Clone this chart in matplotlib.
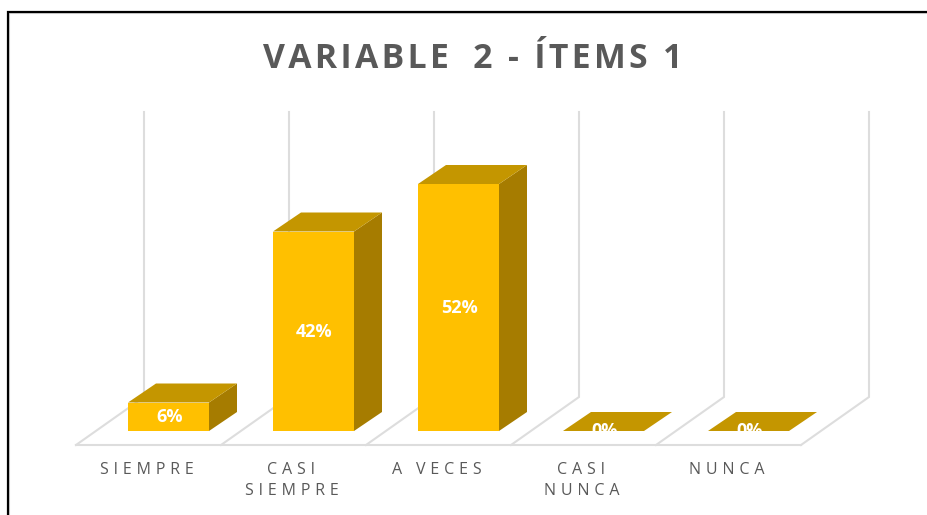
import matplotlib
matplotlib.use('Agg')
import matplotlib.pyplot as plt
from matplotlib.lines import Line2D
from matplotlib.patches import Polygon

plt.rcParams['font.family'] = ['Open Sans', 'DejaVu Sans']

categories = ['SIEMPRE', 'CASI\nSIEMPRE', 'A VECES', 'CASI\nNUNCA', 'NUNCA']
values = [6, 42, 52, 0, 0]
title = 'VARIABLE  2 - ÍTEMS 1'
axis_max = 60

HAIR = '\u200a'


def spaced(text, gap):
    # matplotlib has no letter spacing, so pad with hair spaces
    lines = []
    for line in text.split('\n'):
        out = line[0]
        for prev, ch in zip(line, line[1:]):
            out += ch if prev == ch == ' ' else HAIR * gap + ch
        lines.append(out)
    return '\n'.join(lines)


fig = plt.figure(figsize=(9.28, 5.15), dpi=100)
ax = fig.add_axes([0, 0, 1, 1])

# one category = 145 px, one percent = 4.75 px
ax.set_xlim(-168.5 / 145, (928 - 168.5) / 145)
ax.set_ylim((431 - 515) / 4.75, 431 / 4.75)
ax.axis('off')

bar_w = 81 / 145
bar_dx, bar_dy = 28 / 145, 19 / 4.75
front_dx, front_dy = -20 / 145, -14 / 4.75
back_dx, back_dy = 48 / 145, 34 / 4.75

grid_col = '#DDDDDD'
n = len(categories)

# walls and floor
edges = [i - 0.5 for i in range(n + 1)]
for e in edges:
    ax.plot([e + front_dx, e + back_dx, e + back_dx],
            [front_dy, back_dy, back_dy + axis_max],
            color=grid_col, lw=1.5, solid_joinstyle='miter', zorder=1)
ax.plot([edges[0] + front_dx, edges[-1] + front_dx], [front_dy, front_dy],
        color=grid_col, lw=1.5, zorder=1)

# bars
for i, v in enumerate(values):
    x0 = i - bar_w / 2
    x1 = i + bar_w / 2
    if v > 0:
        ax.add_patch(Polygon([(x0, 0), (x1, 0), (x1, v), (x0, v)],
                             facecolor='#FFC000', edgecolor='none', zorder=3))
        ax.add_patch(Polygon([(x1, 0), (x1 + bar_dx, bar_dy), (x1 + bar_dx, v + bar_dy), (x1, v)],
                             facecolor='#A67C00', edgecolor='none', zorder=3))
    ax.add_patch(Polygon([(x0, v), (x1, v), (x1 + bar_dx, v + bar_dy), (x0 + bar_dx, v + bar_dy)],
                         facecolor='#C49600', edgecolor='none', zorder=3))
    ax.text(i + 0.005, v / 2 - 0.1, f'{v}%', color='white', fontsize=13, fontweight='bold',
            ha='center', va='center', zorder=4)

# category labels, two-line ones sit lower because they grow downwards
for i, c in enumerate(categories):
    y_px = 480.5 if '\n' in c else 470
    ax.text(i - 0.152, (431 - y_px) / 4.75, spaced(c, 3), color='#595959', fontsize=11.5,
            ha='center', va='center', linespacing=1.35, zorder=4)

# title
fig.text(473 / 928, 1 - 59 / 515, spaced(title, 1), color='#595959', fontsize=24.3,
         fontweight='bold', ha='center', va='center')

# black frame with a soft grey shadow
fig.add_artist(Line2D([9.5 / 928, 9.5 / 928, 1], [0, 1 - 12.5 / 515, 1 - 12.5 / 515],
                      color='#D9D9D9', lw=1.5, transform=fig.transFigure, solid_joinstyle='miter'))
fig.add_artist(Line2D([8.5 / 928, 8.5 / 928, 1], [0, 1 - 11.5 / 515, 1 - 11.5 / 515],
                      color='black', lw=1.6, transform=fig.transFigure, solid_joinstyle='miter'))

fig.savefig('out.png', dpi=100)
